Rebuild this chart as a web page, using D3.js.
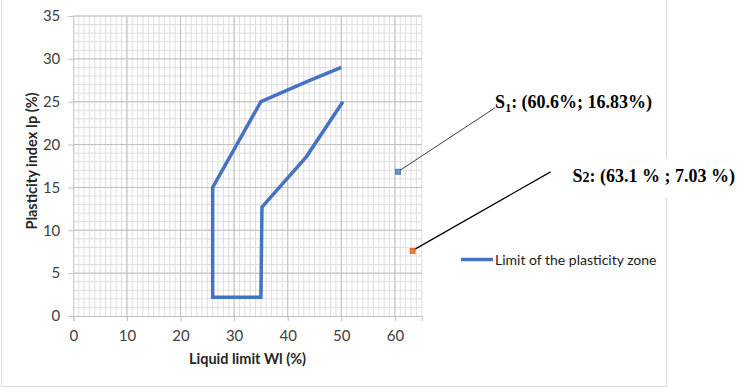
<!DOCTYPE html>
<html>
<head>
<meta charset="utf-8">
<script src="https://cdn.jsdelivr.net/npm/d3@7"></script>
<style>
	body { margin: 0; background: #fff; }
	svg { display: block; }
	text { font-family: Lato, "Liberation Sans", sans-serif; }
	.serif { font-family: "Liberation Serif", "Times New Roman", serif; font-weight: bold; }
</style>
</head>
<body>
<div id="chart"></div>
<script>
// limit of the plasticity zone (one polyline)
const limitWl = [50, 43.8, 35, 26, 26, 35, 35.2, 43.5, 50.3];
const limitIp = [29, 27.4, 25, 15, 2.2, 2.2, 12.7, 18.6, 25];

// samples
const sampleNames = ['S1', 'S2'];
const sampleWl = [60.6, 63.3];
const sampleIp = [16.83, 7.6];
const sampleColors = ['#5b9bd5', '#ed7d31'];
const sampleStroke = ['#3a6fa3', '#d0661c'];

const xTicks = [0, 10, 20, 30, 40, 50, 60];
const yTicks = [0, 5, 10, 15, 20, 25, 30, 35];

const width = 750;
const height = 387;
const margin = { top: 16, right: 328.3, bottom: 71, left: 73.3 };

const svg = d3.select('#chart').append('svg')
	.attr('width', width)
	.attr('height', height);

// chart area frame (light gray)
svg.append('path')
	.attr('d', `M1.5,0 V386.5 H666.5 V0`)
	.style('fill', 'none')
	.style('stroke', '#d9d9d9');

const xScale = d3.scaleLinear()
	.domain([0, 65])
	.range([margin.left, width - margin.right]);

const yScale = d3.scaleLinear()
	.domain([0, 35])
	.range([height - margin.bottom, margin.top]);

// gridlines: minor every 1, major every 10 (x) / 5 (y)
const grid = svg.append('g');
grid.selectAll('.vminor')
	.data(d3.range(1, 66))
	.enter()
	.append('line')
		.attr('x1', d => xScale(d)).attr('x2', d => xScale(d))
		.attr('y1', yScale(0)).attr('y2', yScale(35))
		.style('stroke', '#dedede')
		.style('stroke-width', 1);
grid.selectAll('.hminor')
	.data(d3.range(1, 36))
	.enter()
	.append('line')
		.attr('x1', xScale(0)).attr('x2', xScale(65))
		.attr('y1', d => yScale(d)).attr('y2', d => yScale(d))
		.style('stroke', '#dedede')
		.style('stroke-width', 1);
// majors on top of minors
grid.selectAll('.vmajor')
	.data(xTicks.slice(1))
	.enter()
	.append('line')
		.attr('x1', d => xScale(d)).attr('x2', d => xScale(d))
		.attr('y1', yScale(0)).attr('y2', yScale(35))
		.style('stroke', '#c0c0c0');
grid.selectAll('.hmajor')
	.data(yTicks.slice(1))
	.enter()
	.append('line')
		.attr('x1', xScale(0)).attr('x2', xScale(65))
		.attr('y1', d => yScale(d)).attr('y2', d => yScale(d))
		.style('stroke', '#c0c0c0');

// axes
const xAxis = d3.axisBottom(xScale)
	.tickValues(xTicks)
	.tickSize(5)
	.tickPadding(9)
	.tickFormat(d3.format('d'));

const yAxis = d3.axisLeft(yScale)
	.tickValues(yTicks)
	.tickSize(5)
	.tickPadding(8)
	.tickFormat(d3.format('d'));

const gx = svg.append('g')
	.attr('transform', `translate(0, ${yScale(0)})`)
	.call(xAxis);
const gy = svg.append('g')
	.attr('transform', `translate(${xScale(0)}, 0)`)
	.call(yAxis);

[gx, gy].forEach(g => {
	g.select('.domain').style('stroke', '#bfbfbf');
	g.selectAll('.tick line').style('stroke', '#bfbfbf');
	g.selectAll('.tick text')
		.style('font-family', 'Lato, sans-serif')
		.style('font-size', '15px')
		.style('fill', '#404040');
});

// axis titles
svg.append('text')
	.attr('x', xScale(32.5))
	.attr('y', 364)
	.attr('text-anchor', 'middle')
	.style('font-size', '14.5px')
	.style('font-weight', 'bold')
	.style('fill', '#262626')
	.text('Liquid limit Wl (%)');

svg.append('text')
	.attr('transform', `translate(37, ${yScale(17.5) - 5}) rotate(-90)`)
	.attr('text-anchor', 'middle')
	.style('font-size', '14.5px')
	.style('font-weight', 'bold')
	.style('fill', '#262626')
	.text('Plasticity index Ip (%)');

// plasticity zone line
const limitData = limitWl.map((w, i) => [w, limitIp[i]]);
const line = d3.line()
	.x(d => xScale(d[0]))
	.y(d => yScale(d[1]));

svg.append('path')
	.datum(limitData)
	.attr('d', line)
	.style('fill', 'none')
	.style('stroke', '#4472c4')
	.style('stroke-width', 3.5)
	.style('stroke-linejoin', 'miter');

// leader lines and labels
const labelOffsets = [
	{ lx: 97, ly: -64, tx: 97, ty: -64, w: 1, col: '#404040' },
	{ lx: 138, ly: -79, tx: 160, ty: -69, w: 1.2, col: '#000' }
];

const samples = sampleNames.map((n, i) => ({ name: n, wl: sampleWl[i], ip: sampleIp[i], i }));

// S2 label box covers the frame line
const s2 = samples[1];
svg.append('rect')
	.attr('x', xScale(s2.wl) + labelOffsets[1].tx - 4)
	.attr('y', yScale(s2.ip) + labelOffsets[1].ty - 24)
	.attr('width', 172)
	.attr('height', 40)
	.style('fill', '#fff');

samples.forEach(s => {
	const o = labelOffsets[s.i];
	const cx = xScale(s.wl);
	const cy = yScale(s.ip);
	svg.append('line')
		.attr('x1', cx + 2).attr('y1', cy - 1.5)
		.attr('x2', cx + o.lx).attr('y2', cy + o.ly)
		.style('stroke', o.col)
		.style('stroke-width', o.w);
});

samples.forEach(s => {
	svg.append('rect')
		.attr('x', xScale(s.wl) - 2.5)
		.attr('y', yScale(s.ip) - 2.5)
		.attr('width', 5)
		.attr('height', 5)
		.style('fill', sampleColors[s.i])
		.style('stroke', sampleStroke[s.i])
		.style('stroke-width', 0.8);
});

// S1 label
const t1 = svg.append('text')
	.classed('serif', true)
	.attr('x', xScale(samples[0].wl) + labelOffsets[0].tx)
	.attr('y', yScale(samples[0].ip) + labelOffsets[0].ty)
	.style('font-size', '18px')
	.style('fill', '#000');
t1.append('tspan').text('S');
t1.append('tspan').attr('dy', 4).style('font-size', '12px').text('1');
t1.append('tspan').attr('dy', -4).text(`: (${sampleWl[0]}%; ${sampleIp[0]}%)`);

// S2 label
const t2 = svg.append('text')
	.classed('serif', true)
	.attr('x', xScale(s2.wl) + labelOffsets[1].tx)
	.attr('y', yScale(s2.ip) + labelOffsets[1].ty)
	.style('font-size', '18px')
	.style('fill', '#000');
t2.append('tspan').text('S');
t2.append('tspan').style('font-size', '14px').text('2');
t2.append('tspan').text(': (63.1 % ; 7.03 %)');

// legend
const legend = svg.append('g').attr('transform', 'translate(461, 259.5)');
legend.append('line')
	.attr('x1', 0).attr('x2', 32)
	.style('stroke', '#4472c4')
	.style('stroke-width', 3.5);
legend.append('text')
	.attr('x', 34)
	.attr('y', 5)
	.style('font-size', '14px')
	.style('fill', '#1a1a1a')
	.text('Limit of the plasticity zone');
</script>
</body>
</html>
